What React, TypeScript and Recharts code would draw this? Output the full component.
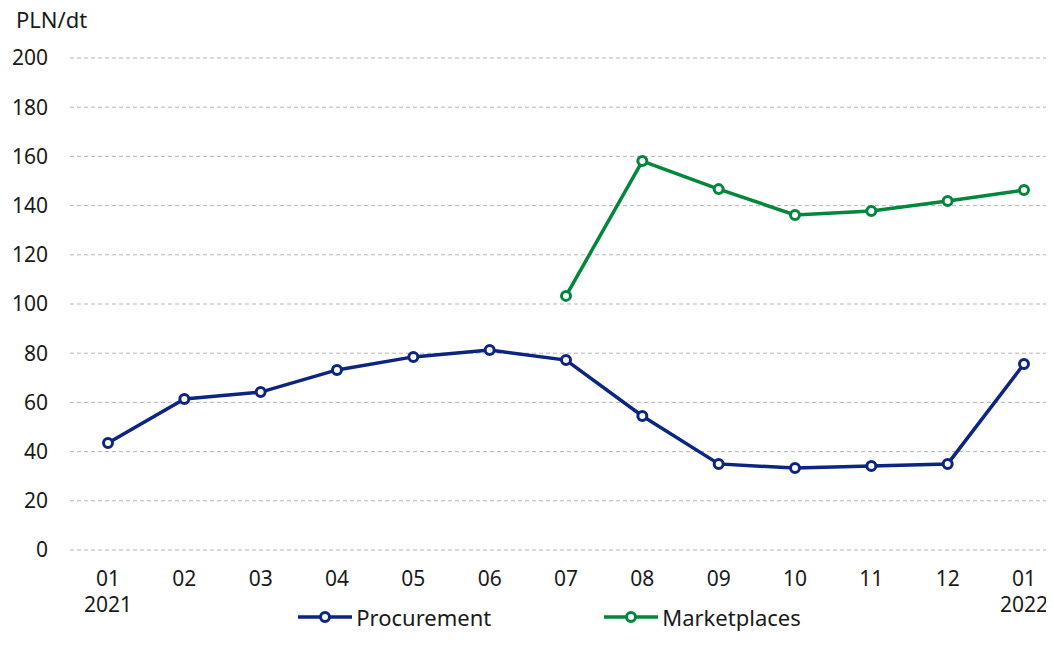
import { LineChart, Line, XAxis, YAxis, CartesianGrid, Legend } from "recharts";

const months = ["01", "02", "03", "04", "05", "06", "07", "08", "09", "10", "11", "12", "01"];
const years = ["2021", "", "", "", "", "", "", "", "", "", "", "", "2022"];
const procurement = [43.5, 61.4, 64.2, 73.2, 78.5, 81.3, 77.2, 54.5, 35, 33.3, 34.1, 35, 75.6];
const marketplaces = [null, null, null, null, null, null, 103.3, 158.1, 146.7, 136.2, 137.8, 141.9, 146.3];
const yTicks = [0, 20, 40, 60, 80, 100, 120, 140, 160, 180, 200];

const NAVY = "#0c2580";
const GREEN = "#00873c";
const FONT = "'Noto Sans', 'Open Sans', sans-serif";

const data = months.map((m, i) => ({
  key: i,
  month: m,
  year: years[i],
  procurement: procurement[i],
  marketplaces: marketplaces[i],
}));

function MonthTick(props: any) {
  const { x, y, payload } = props;
  const row = data[payload.value];
  return (
    <g transform={`translate(${x},${y})`}>
      <text x={0} y={0} dy={28} textAnchor="middle" fill="#1a1a1a" fontSize={21} fontFamily={FONT}>
        {row.month}
      </text>
      {row.year && (
        <text x={0} y={0} dy={54} textAnchor="middle" fill="#1a1a1a" fontSize={21} fontFamily={FONT}>
          {row.year}
        </text>
      )}
    </g>
  );
}

function LegendItem(props: { color: string; label: string }) {
  return (
    <div style={{ display: "flex", alignItems: "center" }}>
      <svg width={56} height={14}>
        <line x1={1} y1={7} x2={55} y2={7} stroke={props.color} strokeWidth={3.5} />
        <circle cx={28} cy={7} r={4.5} fill="#fff" stroke={props.color} strokeWidth={3} />
      </svg>
      <span style={{ marginLeft: 3, fontSize: 22, color: "#1a1a1a", fontFamily: FONT }}>{props.label}</span>
    </div>
  );
}

function ChartLegend() {
  return (
    <div
      style={{
        display: "flex",
        justifyContent: "center",
        gap: 112,
        paddingLeft: 36,
        position: "relative",
        top: -18,
      }}
    >
      <LegendItem color={NAVY} label="Procurement" />
      <LegendItem color={GREEN} label="Marketplaces" />
    </div>
  );
}

export default function App() {
  return (
    <div style={{ margin: -8, width: 1054, height: 661, overflow: "hidden", position: "relative", background: "#fff" }}>
      <div style={{ position: "absolute", left: 16, top: 4, fontSize: 22, color: "#1a1a1a", fontFamily: FONT }}>
        PLN/dt
      </div>
      <LineChart width={1062} height={661} data={data} margin={{ top: 58, right: 0, bottom: 0, left: 0 }}>
        <CartesianGrid vertical={false} stroke="#b5b5b5" strokeDasharray="4 3" />
        <XAxis
          dataKey="key"
          type="category"
          axisLine={false}
          tickLine={false}
          interval={0}
          padding={{ left: 38, right: 38 }}
          height={70}
          tick={<MonthTick />}
        />
        <YAxis
          domain={[0, 200]}
          ticks={yTicks}
          axisLine={false}
          tickLine={false}
          tickSize={0}
          tickMargin={22}
          width={70}
          tick={{ fontSize: 21, fill: "#1a1a1a", fontFamily: FONT }}
        />
        <Legend verticalAlign="bottom" height={41} content={() => <ChartLegend />} />
        <Line
          dataKey="procurement"
          stroke={NAVY}
          strokeWidth={3.5}
          dot={{ r: 4.5, fill: "#fff", stroke: NAVY, strokeWidth: 3 }}
          isAnimationActive={false}
        />
        <Line
          dataKey="marketplaces"
          stroke={GREEN}
          strokeWidth={3.5}
          dot={{ r: 4.5, fill: "#fff", stroke: GREEN, strokeWidth: 3 }}
          isAnimationActive={false}
        />
      </LineChart>
    </div>
  );
}
